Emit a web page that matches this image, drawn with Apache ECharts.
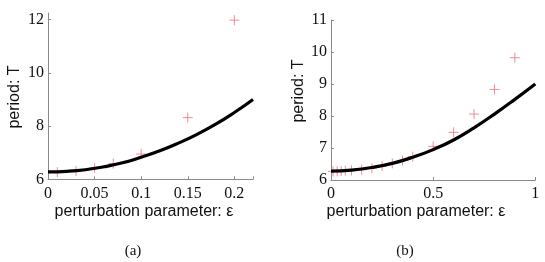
<!DOCTYPE html>
<html><head><meta charset="utf-8">
<script src="https://cdn.jsdelivr.net/npm/echarts@6/dist/echarts.min.js"></script>
<style>html,body{margin:0;padding:0;background:#fff}#c{width:545px;height:262px}</style>
</head><body><div id="c"></div>
<script>
// (a) perturbation parameter eps and period T
const epsA = [0.01, 0.03, 0.05, 0.07, 0.1, 0.15, 0.2];
const periodA = [6.27, 6.31, 6.43, 6.59, 6.95, 8.32, 11.98];
const curveEpsA = [0, 0.02, 0.04, 0.06, 0.08, 0.10, 0.12, 0.14, 0.16, 0.18, 0.20, 0.22];
const curveTA = [6.28, 6.30, 6.36, 6.47, 6.62, 6.83, 7.07, 7.36, 7.69, 8.07, 8.51, 9.00];
// (b)
const epsB = [0.01, 0.03, 0.05, 0.07, 0.1, 0.15, 0.2, 0.25, 0.3, 0.35, 0.4, 0.5, 0.6, 0.7, 0.8, 0.9];
const periodB = [6.27, 6.27, 6.28, 6.29, 6.30, 6.32, 6.37, 6.44, 6.52, 6.61, 6.73, 7.05, 7.49, 8.06, 8.83, 9.82];
const curveEpsB = [0, 0.1, 0.2, 0.3, 0.4, 0.5, 0.6, 0.7, 0.8, 0.9, 1.0];
const curveTB = [6.28, 6.31, 6.39, 6.52, 6.71, 6.95, 7.25, 7.63, 8.06, 8.52, 9.00];
const xTicksA = ['0', '0.05', '0.1', '0.15', '0.2'];
const xTicksB = ['0', '0.5', '1'];
const labels = ['(a)', '(b)'];
const xName = 'perturbation parameter: ε';
const yName = 'period: T';

const chart = echarts.init(document.getElementById('c'), null, {renderer: 'canvas'});
const axisCol = '#8a8a8a';
const serif = 'Liberation Serif';
const sans = 'Liberation Sans';
function xAxis(idx, min, max, interval, ticks) {
  return {
    type: 'value', gridIndex: idx, min: min, max: max, interval: interval,
    axisLine: {show: true, onZero: false, lineStyle: {color: axisCol, width: 1}},
    axisTick: {show: true, inside: true, length: 3, lineStyle: {color: axisCol}},
    splitLine: {show: false},
    axisLabel: {color: '#111', fontFamily: serif, fontSize: 16, margin: 6,
      showMaxLabel: true, showMinLabel: true,
      formatter: function (v) { const s = ticks.find(t => Math.abs(parseFloat(t) - v) < 1e-9); return s === undefined ? '' : s; }}
  };
}
function yAxis(idx, min, max, interval) {
  return {
    type: 'value', gridIndex: idx, min: min, max: max, interval: interval,
    axisLine: {show: true, onZero: false, lineStyle: {color: axisCol, width: 1}},
    axisTick: {show: true, inside: true, length: 3, lineStyle: {color: axisCol}},
    splitLine: {show: false},
    axisLabel: {color: '#111', fontFamily: serif, fontSize: 16, margin: 4}
  };
}
const plus = 'path://M0,-5L0,5M-5,0L5,0';
const markerStyle = {color: 'rgba(0,0,0,0)', borderColor: '#f0707a', borderWidth: 1};
chart.setOption({
  animation: false,
  grid: [
    {left: 48, top: 13, width: 205, bottom: 82.7},
    {left: 331, top: 20, width: 204.3, bottom: 82}
  ],
  xAxis: [xAxis(0, 0, 0.22, 0.05, xTicksA), xAxis(1, 0, 1, 0.5, xTicksB)],
  yAxis: [yAxis(0, 6, 12.25, 2), yAxis(1, 6, 11, 1)],
  series: [
    {type: 'line', xAxisIndex: 0, yAxisIndex: 0, data: curveEpsA.map((e, i) => [e, curveTA[i]]),
      smooth: true, showSymbol: false, lineStyle: {color: '#000', width: 3.2}},
    {type: 'scatter', xAxisIndex: 0, yAxisIndex: 0, data: epsA.map((e, i) => [e, periodA[i]]),
      symbol: plus, symbolSize: 10, itemStyle: markerStyle},
    {type: 'line', xAxisIndex: 1, yAxisIndex: 1, data: curveEpsB.map((e, i) => [e, curveTB[i]]),
      smooth: true, showSymbol: false, lineStyle: {color: '#000', width: 3.2}},
    {type: 'scatter', xAxisIndex: 1, yAxisIndex: 1, data: epsB.map((e, i) => [e, periodB[i]]),
      symbol: plus, symbolSize: 10, itemStyle: markerStyle}
  ],
  graphic: [
    {type: 'text', x: 15, y: 97, rotation: Math.PI / 2, style: {text: yName, font: '16px ' + sans, fill: '#111', textAlign: 'center', textVerticalAlign: 'middle'}},
    {type: 'text', x: 299, y: 91, rotation: Math.PI / 2, style: {text: yName, font: '16px ' + sans, fill: '#111', textAlign: 'center', textVerticalAlign: 'middle'}},
    {type: 'text', x: 144, y: 212, style: {text: xName, font: '16px ' + sans, fill: '#111', textAlign: 'center', textVerticalAlign: 'middle'}},
    {type: 'text', x: 416, y: 212, style: {text: xName, font: '16px ' + sans, fill: '#111', textAlign: 'center', textVerticalAlign: 'middle'}},
    {type: 'text', x: 133, y: 251, style: {text: labels[0], font: '15px ' + serif, fill: '#111', textAlign: 'center', textVerticalAlign: 'middle'}},
    {type: 'text', x: 405, y: 251, style: {text: labels[1], font: '15px ' + serif, fill: '#111', textAlign: 'center', textVerticalAlign: 'middle'}}
  ]
});
</script></body></html>
